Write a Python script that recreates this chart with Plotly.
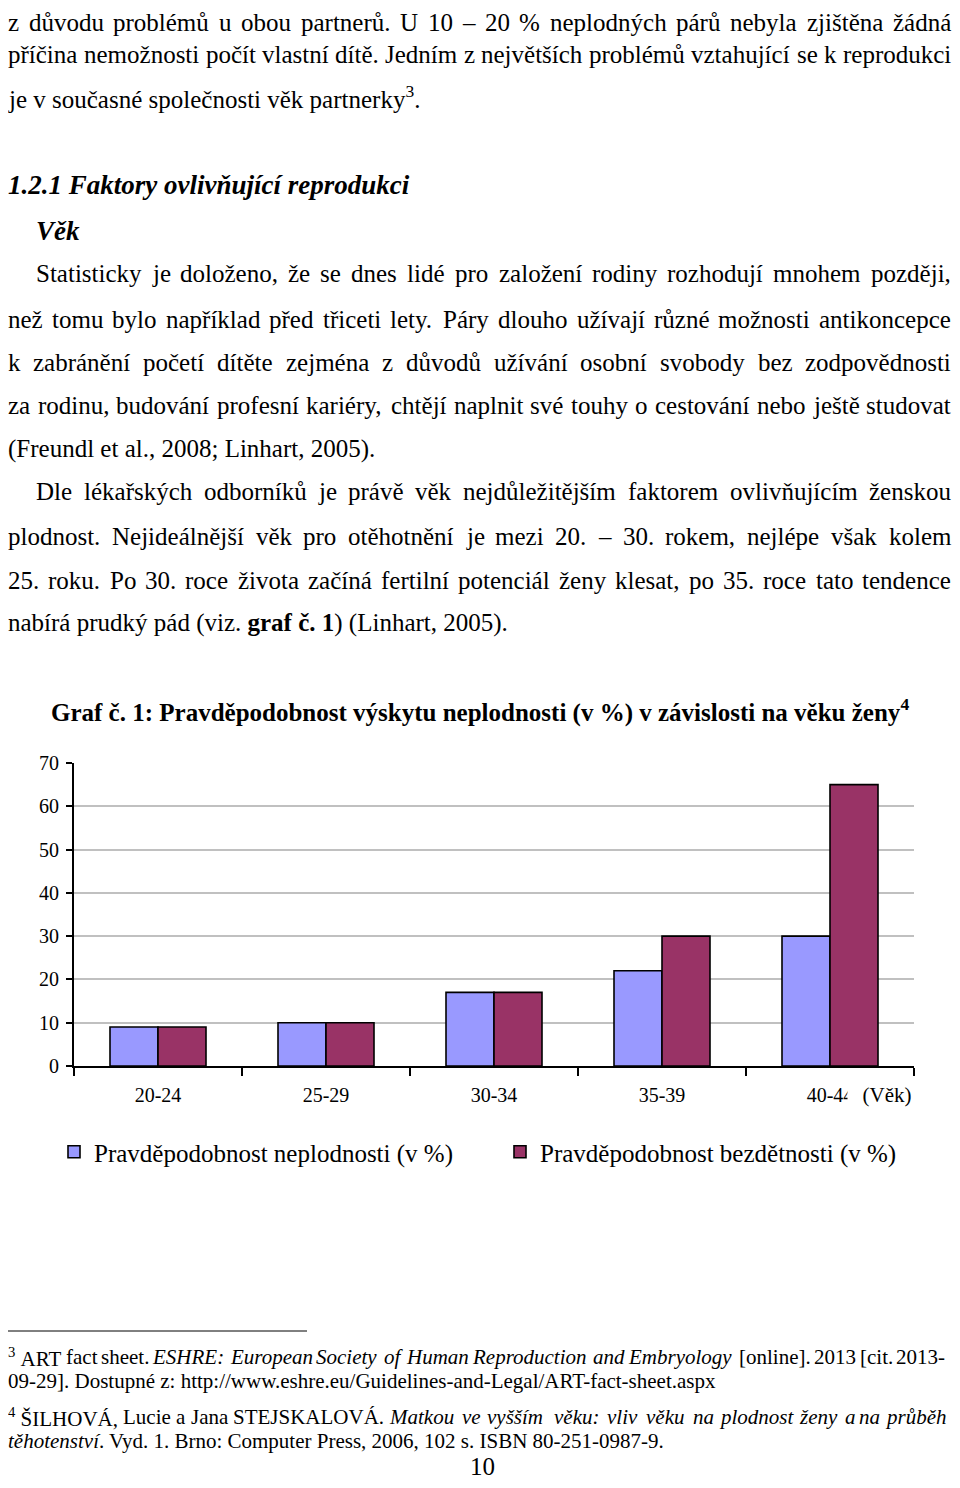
import re
import unicodedata
import plotly.graph_objects as go

# ---------------- data ----------------
categories = ["20-24", "25-29", "30-34", "35-39", "40-44"]
neplodnost = [9, 10, 17, 22, 30]
bezdetnost = [9, 10, 17, 30, 65]
series_names = ["Pravděpodobnost neplodnosti (v %)", "Pravděpodobnost bezdětnosti (v %)"]
y_ticks = [0, 10, 20, 30, 40, 50, 60, 70]

# figure sized so that it fits the 960x1488 window together with the 8px page margin
W, H = 944, 1472
OFF = 8
FONT = "Liberation Serif, Times New Roman, serif"


def px(x):
    return (x - OFF) / W


def py(y):
    return 1 - (y - OFF) / H


fig = go.Figure()
fig.add_trace(go.Bar(x=categories, y=neplodnost, name=series_names[0],
                     marker=dict(color="#9999FF", line=dict(color="black", width=1.6))))
fig.add_trace(go.Bar(x=categories, y=bezdetnost, name=series_names[1],
                     marker=dict(color="#993366", line=dict(color="black", width=1.6))))

# ---------------- text helpers ----------------
AFM = {' ': 250, '\u00a0': 250, '!': 333, '"': 408, '%': 833, '&': 778, "'": 180, '(': 333, ')': 333,
       ',': 250, '-': 333, '.': 250, '/': 278, ':': 278, ';': 278, '?': 444,
       '[': 333, ']': 333, '–': 500,
       'A': 722, 'B': 667, 'C': 667, 'D': 722, 'E': 611, 'F': 556, 'G': 722, 'H': 722,
       'I': 333, 'J': 389, 'K': 722, 'L': 611, 'M': 889, 'N': 722, 'O': 722, 'P': 556,
       'Q': 722, 'R': 667, 'S': 556, 'T': 611, 'U': 722, 'V': 722, 'W': 944, 'X': 722,
       'Y': 722, 'Z': 611,
       'a': 444, 'b': 500, 'c': 444, 'd': 500, 'e': 444, 'f': 333, 'g': 500, 'h': 500,
       'i': 278, 'j': 278, 'k': 500, 'l': 278, 'm': 778, 'n': 500, 'o': 500, 'p': 500,
       'q': 500, 'r': 333, 's': 389, 't': 278, 'u': 500, 'v': 500, 'w': 722, 'x': 500,
       'y': 500, 'z': 444}


def char_w(c):
    if c.isdigit():
        return 500
    if c in AFM:
        return AFM[c]
    base = unicodedata.normalize("NFD", c)[0]
    return AFM.get(base, 500)


def tokenize(text):
    """split into words, each word wrapped with its own complete tags; returns (html, width_em)."""
    active = []
    out = []
    for tok in text.split(" "):
        start = list(active)
        width = 0.0
        pos = 0
        while pos < len(tok):
            m = re.match(r"<(/?)(i|b|sup)>", tok[pos:])
            if m:
                if m.group(1):
                    if m.group(2) in active:
                        active.remove(m.group(2))
                else:
                    active.append(m.group(2))
                pos += m.end()
                continue
            f = 1.0
            if "sup" in active:
                f *= 0.7
            if "b" in active:
                f *= 1.06
            if "i" in active:
                f *= 1.03
            width += char_w(tok[pos]) * f / 1000.0
            pos += 1
        html = "".join(f"<{t}>" for t in start) + tok + "".join(f"</{t}>" for t in reversed(active))
        out.append((html, width))
    return out


annotations = []


def add_text(ypx, x0, text, size, x1=None, anchor="left"):
    if x1 is None:
        annotations.append(dict(text=text, x=px(x0 - 1), y=py(ypx), xref="paper", yref="paper",
                                xanchor=anchor, yanchor="middle", showarrow=False,
                                font=dict(family=FONT, size=size, color="black")))
        return
    toks = tokenize(text)
    total = sum(w for _, w in toks) * size
    gap = (x1 - x0 - total) / (len(toks) - 1)
    x = x0
    for html, w in toks:
        annotations.append(dict(text=html, x=px(x - 1), y=py(ypx), xref="paper", yref="paper",
                                xanchor="left", yanchor="middle", showarrow=False,
                                font=dict(family=FONT, size=size, color="black")))
        x += w * size + gap


BODY = 25
XR = 950  # right edge of justified lines
add_text(22, 7, "z důvodu problémů u obou partnerů. U 10 – 20 % neplodných párů nebyla zjištěna žádná", BODY, XR)
add_text(55, 7, "příčina nemožnosti počít vlastní dítě. Jedním z největších problémů vztahující se k reprodukci", BODY, XR)
add_text(97, 7, "je v současné společnosti věk partnerky<sup>3</sup>.", BODY)
add_text(185, 7, "<b><i>1.2.1 Faktory ovlivňující reprodukci</i></b>", 27)
add_text(231, 35, "<b><i>Věk</i></b>", 27)
add_text(274, 35, "Statisticky je doloženo, že se dnes lidé pro založení rodiny rozhodují mnohem později,", BODY, XR)
add_text(319, 7, "než tomu bylo například před třiceti lety. Páry dlouho užívají různé možnosti antikoncepce", BODY, XR)
add_text(362, 7, "k zabránění početí dítěte zejména z důvodů užívání osobní svobody bez zodpovědnosti", BODY, XR)
add_text(406, 7, "za rodinu, budování profesní kariéry, chtějí naplnit své touhy o cestování nebo ještě studovat", BODY, XR)
add_text(449, 7, "(Freundl et al., 2008; Linhart, 2005).", BODY)
add_text(492, 35, "Dle lékařských odborníků je právě věk nejdůležitějším faktorem ovlivňujícím ženskou", BODY, XR)
add_text(536, 7, "plodnost. Nejideálnější věk pro otěhotnění je mezi 20. – 30. rokem, nejlépe však kolem", BODY, XR)
add_text(580, 7, "25. roku. Po 30. roce života začíná fertilní potenciál ženy klesat, po 35. roce tato tendence", BODY, XR)
add_text(623, 7, "nabírá prudký pád (viz. <b>graf č. 1</b>) (Linhart, 2005).", BODY)

# chart title
add_text(710, 50, "<b>Graf č. 1: Pravděpodobnost výskytu neplodnosti (v %) v závislosti na věku ženy<sup>4</sup></b>", 25)

FN = 21
FXR = 944
add_text(1357, 7, "<sup>3</sup>\u00a0ART fact sheet. <i>ESHRE: European Society of Human Reproduction and Embryology</i> [online]. 2013 [cit. 2013-", FN, FXR)
add_text(1381, 7, "09-29]. Dostupné z: http://www.eshre.eu/Guidelines-and-Legal/ART-fact-sheet.aspx", FN)
add_text(1417, 7, "<sup>4</sup>\u00a0ŠILHOVÁ, Lucie a Jana STEJSKALOVÁ. <i>Matkou ve vyšším věku: vliv věku na plodnost ženy a na průběh</i>", FN, FXR)
add_text(1441, 7, "<i>těhotenství</i>. Vyd. 1. Brno: Computer Press, 2006, 102 s. ISBN 80-251-0987-9.", FN)
add_text(1466, 483, "10", BODY, anchor="center")

# axis unit label (partly covers the last category label like in the original)
annotations.append(dict(text="&nbsp;&nbsp;(Věk)", x=px(916), y=py(1095), xref="paper", yref="paper",
                        xanchor="right", yanchor="middle", showarrow=False, bgcolor="white",
                        borderpad=4, font=dict(family=FONT, size=21, color="black")))

shapes = [dict(type="line", xref="paper", yref="paper", x0=px(7), x1=px(307),
               y0=py(1331), y1=py(1331), line=dict(color="black", width=1))]

fig.update_layout(
    width=W, height=H,
    margin=dict(l=0, r=0, t=0, b=0, autoexpand=False),
    paper_bgcolor="white", plot_bgcolor="white",
    font=dict(family=FONT, color="black"),
    barmode="group", bargap=0.4286, bargroupgap=0,
    xaxis=dict(domain=[px(74), px(914)], showline=True, linecolor="black", linewidth=2,
               ticks="outside", tickson="boundaries", ticklen=8, tickwidth=2, tickcolor="black",
               showgrid=False, tickfont=dict(family=FONT, size=20, color="black"),
               ticklabelstandoff=10, automargin=False),
    yaxis=dict(domain=[py(1066), py(763)], range=[0, 70], tickvals=y_ticks,
               showline=True, linecolor="black", linewidth=2,
               ticks="outside", ticklen=6, tickwidth=2, tickcolor="black",
               showgrid=True, gridcolor="#C0C0C0", gridwidth=1.5, zeroline=False,
               tickfont=dict(family=FONT, size=20, color="black"), ticklabelstandoff=3,
               automargin=False),
    showlegend=True,
    legend=dict(orientation="h", x=px(54), xanchor="left", y=py(1152), yanchor="middle",
                entrywidth=401, entrywidthmode="pixels", traceorder="normal",
                font=dict(family=FONT, size=25, color="black"), bgcolor="rgba(0,0,0,0)"),
    annotations=annotations,
    shapes=shapes,
)

fig.write_html("out.html")
